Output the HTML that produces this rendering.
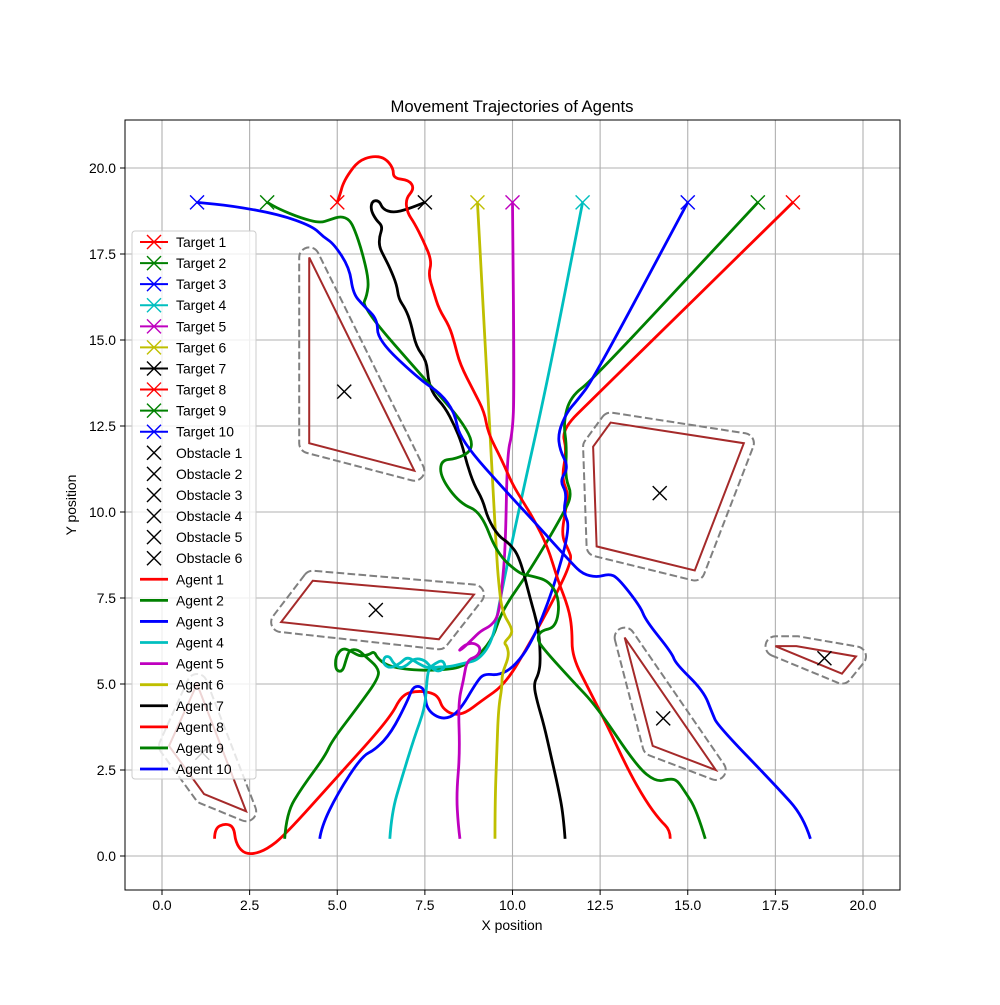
<!DOCTYPE html>
<html><head><meta charset="utf-8"><style>
body{margin:0;background:#fff;}
svg text{font-family:"Liberation Sans","DejaVu Sans",sans-serif;}
</style></head><body>
<svg id="chart" width="1000" height="1000" xmlns="http://www.w3.org/2000/svg">
<rect width="1000" height="1000" fill="#fff"/>
<text x="512" y="112" font-size="16.7" text-anchor="middle">Movement Trajectories of Agents</text>
<text x="512" y="930" font-size="13.9" text-anchor="middle">X position</text>
<text x="76" y="505" font-size="13.9" text-anchor="middle" transform="rotate(-90 76 505)">Y position</text>
<g id="grid"></g><g id="ticks"></g>
<clipPath id="clip"><rect x="125" y="120" width="775" height="770"/></clipPath>
<g id="plot" clip-path="url(#clip)"></g>
<rect x="125" y="120" width="775" height="770" fill="none" stroke="#000" stroke-width="1"/>
<g id="legend"></g>
</svg>
<script>
const xTicks=[0,2.5,5,7.5,10,12.5,15,17.5,20];
const yTicks=[0,2.5,5,7.5,10,12.5,15,17.5,20];
const targetX=[18,3,1,12,10,9,7.5,5,17,15];
const targetY=[19,19,19,19,19,19,19,19,19,19];
const targetColors=['#ff0000','#008000','#0000ff','#00bfbf','#bf00bf','#bfbf00','#000000','#ff0000','#008000','#0000ff'];
const obstacleCX=[5.2,14.2,6.1,14.3,18.9,1.15];
const obstacleCY=[13.5,10.55,7.15,4.0,5.75,3.0];
const obs1=[[4.2,17.4],[4.2,12.0],[7.2,11.2]];
const obs2=[[12.8,12.6],[16.6,12.0],[15.2,8.3],[12.4,9.0],[12.3,11.9]];
const obs3=[[4.3,8.0],[8.9,7.6],[7.9,6.3],[3.4,6.8]];
const obs4=[[13.2,6.35],[15.8,2.5],[14.0,3.2]];
const obs5=[[17.5,6.1],[18.1,6.1],[19.8,5.8],[19.4,5.3]];
const obs6=[[1.0,5.0],[0.2,3.2],[1.2,1.8],[2.4,1.3]];
const agent1=[[1.5,0.5],[1.5,0.8],[1.8,0.95],[2.05,0.85],[2.1,0.4],[2.3,0.1],[2.6,0.05],[3.0,0.2],[3.5,0.6],[5,2.3],[6.5,4.0],[6.85,4.7],[7.3,4.8],[7.7,4.75],[7.9,4.6],[8.0,4.3],[8.3,4.1],[8.65,4.15],[9.1,4.5],[9.8,5.0],[10.5,6.2],[11.2,7.5],[11.7,8.6],[11.6,8.9],[11.4,9.3],[11.5,10.0],[11.6,10.5],[11.4,11.0],[11.55,11.8],[11.4,12.4],[12.3,13.3],[18,19]];
const agent2=[[3.5,0.5],[3.55,1.25],[4.0,2.0],[4.65,2.9],[4.85,3.35],[5.6,4.35],[6.2,5.2],[6.15,5.5],[5.8,5.8],[5.6,6.0],[5.35,6.0],[5.25,5.7],[5.15,5.35],[4.95,5.4],[4.95,5.8],[5.15,6.05],[5.4,5.95],[5.65,5.8],[5.9,5.85],[6.05,5.95],[6.15,5.75],[6.4,5.55],[6.8,5.45],[7.3,5.4],[7.95,5.4],[8.65,5.5],[9.4,6.2],[9.7,7.15],[10.5,8.3],[11.45,9.95],[11.7,10.5],[11.5,11.0],[11.55,11.9],[11.45,12.6],[11.65,13.35],[12.3,13.85],[17,19]];
const agent3=[[4.5,0.5],[4.55,0.85],[5.0,1.8],[5.7,2.9],[6.1,3.1],[6.55,3.6],[7.0,4.5],[7.15,4.9],[7.35,4.95],[7.5,4.8],[7.55,4.25],[8.0,3.95],[8.45,4.15],[9.0,5.1],[9.2,5.3],[9.6,5.25],[10.05,5.5],[10.55,6.2],[11.15,7.7],[11.65,9.55],[11.45,10.0],[11.55,10.55],[11.35,10.9],[11.6,11.3],[11.35,11.8],[11.3,12.3],[11.55,12.9],[11.85,13.25],[12.3,13.85],[15,19]];
const agent4=[[6.5,0.5],[6.55,1.25],[6.85,2.3],[7.2,3.45],[7.5,4.3],[7.55,5.0],[7.6,5.45],[7.8,5.6],[8.0,5.7],[8.1,5.5],[7.9,5.35],[7.7,5.45],[7.5,5.7],[7.2,5.75],[7.0,5.55],[6.8,5.45],[6.6,5.6],[6.5,5.8],[6.35,5.8],[6.3,5.6],[6.5,5.45],[6.8,5.6],[7.0,5.8],[7.3,5.6],[7.6,5.45],[7.9,5.5],[8.2,5.5],[8.6,5.6],[9.05,5.7],[9.45,6.3],[9.65,7.5],[10.2,10.15],[11.0,13.8],[12,19]];
const agent5=[[8.5,0.5],[8.45,0.9],[8.4,1.8],[8.5,3.0],[8.45,4.45],[8.6,5.1],[8.7,5.7],[9.0,5.8],[9.1,6.05],[8.9,6.2],[8.65,6.15],[8.45,5.95],[8.6,6.05],[8.85,6.3],[9.1,6.55],[9.4,6.7],[9.6,7.0],[9.7,7.8],[9.8,9.0],[9.85,11.7],[10.0,12.3],[10.05,13.5],[10,19]];
const agent6=[[9.5,0.5],[9.5,1.5],[9.55,3.0],[9.6,4.3],[9.7,4.9],[9.7,5.3],[9.9,5.8],[9.85,6.1],[9.75,6.2],[9.95,6.4],[10.0,6.6],[9.7,7.1],[9.6,8.0],[9.55,8.7],[9.4,11.5],[9,19]];
const agent7=[[11.5,0.5],[11.45,1.2],[11.3,2.0],[11.1,2.9],[10.9,3.8],[10.7,4.5],[10.6,5.0],[10.75,5.3],[10.8,5.7],[10.75,6.6],[10.5,7.5],[10.2,8.7],[9.9,9.1],[9.6,9.3],[9.3,9.8],[9.15,10.35],[8.9,10.8],[8.7,11.4],[8.55,12.0],[8.35,12.5],[8.07,13.05],[7.75,13.4],[7.6,13.8],[7.55,14.4],[7.25,14.8],[7.1,15.5],[6.95,15.9],[6.75,16.2],[6.7,16.6],[6.5,17.1],[6.35,17.4],[6.2,17.7],[6.2,18.0],[6.3,18.3],[6.1,18.5],[5.95,18.8],[6.0,19.05],[6.2,19.05],[6.3,18.8],[6.6,18.7],[7.0,18.8],[7.5,19]];
const agent8=[[14.5,0.5],[14.5,0.75],[14.2,1.05],[13.8,1.6],[13.3,2.5],[12.7,3.8],[12.2,4.8],[11.7,5.8],[11.7,6.6],[11.6,7.2],[11.3,8.0],[11.0,9.0],[10.6,9.8],[10.3,10.3],[10.0,10.8],[9.7,11.5],[9.3,12.3],[9.2,12.9],[8.9,13.5],[8.5,14.3],[8.35,14.9],[8.2,15.4],[7.9,15.9],[7.75,16.4],[7.6,16.9],[7.7,17.3],[7.45,17.9],[7.2,18.4],[7.0,18.7],[6.95,19.1],[7.2,19.4],[7.05,19.65],[6.6,19.7],[6.6,20.0],[6.35,20.3],[6.0,20.35],[5.6,20.2],[5.3,19.8],[5.15,19.5],[5.1,19.3],[5.0,19.0]];
const agent9=[[15.5,0.5],[15.25,1.35],[14.9,1.9],[14.7,2.2],[14.5,2.25],[14.1,2.15],[13.55,2.6],[12.4,4.35],[11.7,5.1],[10.9,6.0],[10.7,6.3],[10.8,6.55],[11.25,6.65],[11.35,7.45],[11.05,8.0],[10.5,8.15],[10.2,8.2],[9.55,8.8],[9.1,10.0],[8.5,10.25],[7.95,11.0],[7.95,11.5],[8.4,11.55],[8.8,11.75],[8.85,12.1],[8.5,12.7],[7.95,13.35],[7.55,13.8],[5.7,15.95],[5.85,16.3],[5.9,16.75],[5.7,17.6],[5.5,18.2],[5.35,18.5],[5.1,18.6],[4.8,18.5],[4.5,18.4],[3.95,18.55],[3.35,18.8],[3.0,19.0]];
const agent10=[[18.5,0.5],[18.3,1.15],[17.55,2.0],[15.85,3.8],[15.7,4.15],[15.45,4.8],[14.65,5.6],[14.55,5.9],[13.8,6.85],[13.65,7.25],[13.0,8.1],[12.75,8.2],[12.4,8.1],[12.0,8.2],[11.7,8.5],[10.5,9.85],[9.95,10.45],[8.5,12.1],[8.35,12.9],[7.95,13.45],[7.35,13.85],[6.15,15.0],[6.15,15.6],[5.75,16.0],[5.45,16.35],[5.35,17.1],[4.9,17.8],[4.6,18.0],[4.3,18.3],[3.35,18.65],[2.0,18.9],[1.0,19.0]];
const agentColors=['#ff0000','#008000','#0000ff','#00bfbf','#bf00bf','#bfbf00','#000000','#ff0000','#008000','#0000ff'];

const NS='http://www.w3.org/2000/svg';
const sx=v=>162+v*35.05, sy=v=>856-v*34.4;
function mk(tag,attrs,parent){const e=document.createElementNS(NS,tag);for(const k in attrs)e.setAttribute(k,attrs[k]);parent.appendChild(e);return e;}
const grid=document.getElementById('grid'),ticks=document.getElementById('ticks'),plot=document.getElementById('plot'),legend=document.getElementById('legend');
xTicks.forEach(t=>{
  const l=mk('line',{x1:sx(t),x2:sx(t),y1:120,y2:890,stroke:'#b0b0b0','stroke-width':1.1},grid);
  
  
  mk('line',{x1:sx(t),x2:sx(t),y1:890,y2:895,stroke:'#000'},ticks);
  const tx=mk('text',{x:sx(t),y:910,'font-size':13.9,'text-anchor':'middle'},ticks);tx.textContent=t.toFixed(1);
  
  
});
yTicks.forEach(t=>{
  const l=mk('line',{y1:sy(t),y2:sy(t),x1:125,x2:900,stroke:'#b0b0b0','stroke-width':1.1},grid);
  
  
  mk('line',{y1:sy(t),y2:sy(t),x1:120,x2:125,stroke:'#000'},ticks);
  const tx=mk('text',{x:116,y:sy(t)+5,'font-size':13.9,'text-anchor':'end'},ticks);tx.textContent=t.toFixed(1);
  
  
});
function xMark(cx,cy,color,parent,s,w){const g=mk('g',{},parent);
  mk('line',{x1:cx-s,y1:cy-s,x2:cx+s,y2:cy+s,stroke:color,'stroke-width':w},g);
  mk('line',{x1:cx-s,y1:cy+s,x2:cx+s,y2:cy-s,stroke:color,'stroke-width':w},g);return g;}
function offsetPath(pts,d){
  const P=pts.map(p=>[sx(p[0]),sy(p[1])]);const n=P.length;
  let a=0;for(let i=0;i<n;i++){const p=P[i],q=P[(i+1)%n];a+=p[0]*q[1]-q[0]*p[1];}
  const s=a>0?1:-1;
  const sweep=a>0?1:0;
  const norm=(p,q)=>{const dx=q[0]-p[0],dy=q[1]-p[1],L=Math.hypot(dx,dy);return[s*dy/L,-s*dx/L];};
  let str='';
  for(let i=0;i<n;i++){const v=P[i],pr=P[(i-1+n)%n],nx=P[(i+1)%n];
    const n1=norm(pr,v),n2=norm(v,nx);
    const a1=[v[0]+n1[0]*d,v[1]+n1[1]*d],a2=[v[0]+n2[0]*d,v[1]+n2[1]*d];
    str+=(i?'L':'M')+a1[0].toFixed(1)+' '+a1[1].toFixed(1)+'A'+d+' '+d+' 0 0 '+sweep+' '+a2[0].toFixed(1)+' '+a2[1].toFixed(1);}
  return str+'Z';}
const obstacles=[obs1,obs2,obs3,obs4,obs5,obs6];
obstacles.forEach((o,i)=>{
  const g=mk('g',{},plot);
  
  
  mk('path',{d:offsetPath(o,10),fill:'none',stroke:'#808080','stroke-width':2,'stroke-dasharray':'7.7 3.3'},g);
  mk('polygon',{points:o.map(p=>sx(p[0])+','+sy(p[1])).join(' '),fill:'none',stroke:'#a52a2a','stroke-width':2},g);
  const m=xMark(sx(obstacleCX[i]),sy(obstacleCY[i]),'#000',g,7,1.4);
  
  
});
const agents=[agent1,agent2,agent3,agent4,agent5,agent6,agent7,agent8,agent9,agent10];
agents.forEach((a,i)=>{
  const pts=a.map(p=>[sx(p[0]),sy(p[1])]);
  let d='M'+pts[0][0]+' '+pts[0][1];
  for(let k=1;k<pts.length-1;k++){const m=[(pts[k][0]+pts[k+1][0])/2,(pts[k][1]+pts[k+1][1])/2];d+='Q'+pts[k][0]+' '+pts[k][1]+' '+m[0]+' '+m[1];}
  d+='L'+pts[pts.length-1][0]+' '+pts[pts.length-1][1];
  const p=mk('path',{d:d,fill:'none',stroke:agentColors[i],'stroke-width':2.8,'stroke-linejoin':'round'},plot);
  
  
});
targetX.forEach((x,i)=>{
  const m=xMark(sx(x),sy(targetY[i]),targetColors[i],plot,7,1.4);
  
  
});
const lb=mk('rect',{x:132,y:231,width:124,height:548,rx:3,fill:'#fff','fill-opacity':0.8,stroke:'#ccc','stroke-width':1},legend);


const labels=[],kinds=[],cols=[];
for(let i=0;i<10;i++){labels.push('Target '+(i+1));kinds.push('t');cols.push(targetColors[i]);}
for(let i=0;i<6;i++){labels.push('Obstacle '+(i+1));kinds.push('o');cols.push('#000');}
for(let i=0;i<10;i++){labels.push('Agent '+(i+1));kinds.push('a');cols.push(agentColors[i]);}
labels.forEach((lab,i)=>{
  const y=242+i*21.08;const g=mk('g',{},legend);
  
  
  if(kinds[i]!=='o')mk('line',{x1:140,x2:168,y1:y,y2:y,stroke:cols[i],'stroke-width':kinds[i]==='a'?2.8:2},g);
  if(kinds[i]!=='a')xMark(154,y,cols[i],g,7,1.4);
  const t=mk('text',{x:176,y:y+5,'font-size':13.9},g);t.textContent=lab;
});
</script>
</body></html>
